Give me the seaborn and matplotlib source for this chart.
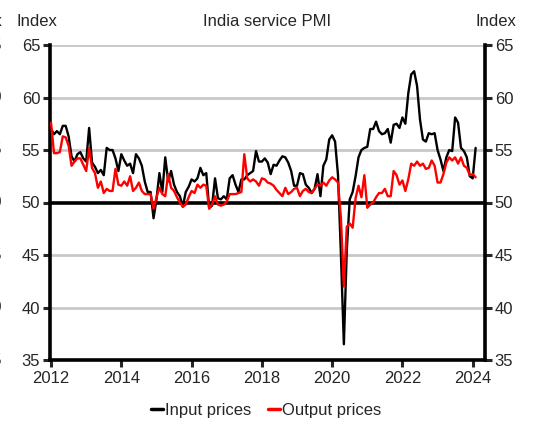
"""India service PMI: input vs output prices (monthly index, 2012-2024)."""

import numpy as np
import pandas as pd
import matplotlib

matplotlib.use("Agg")
import matplotlib.pyplot as plt
import matplotlib.transforms as mtransforms
import seaborn as sns


START_YEAR = 2012  # first point is Jan 2012, one value per month

input_prices = [
    57.0, 56.5, 56.8, 56.5, 57.3, 57.3, 56.3, 54.4, 53.9, 54.6, 54.8, 54.2,
    53.9, 57.1, 53.8, 53.4, 52.8, 53.1, 52.6, 55.2, 55.0, 55.0, 54.2, 53.0,
    54.6, 54.0, 53.5, 53.7, 52.8, 54.6, 54.2, 53.5, 52.0, 51.0, 51.0, 48.5,
    50.3, 52.8, 51.0, 54.3, 52.0, 53.0, 51.7, 51.0, 50.6, 49.6, 51.0, 51.5,
    52.2, 52.0, 52.3, 53.3, 52.6, 52.8, 49.5, 49.7, 52.3, 50.4, 50.3, 50.6,
    50.3, 52.3, 52.6, 51.7, 51.0, 52.2, 52.2, 52.6, 52.8, 53.0, 54.9, 53.9,
    53.9, 54.2, 53.8, 52.7, 53.6, 53.5, 54.0, 54.4, 54.3, 53.8, 53.0, 51.6,
    51.6, 52.8, 52.7, 51.7, 51.4, 50.9, 51.3, 52.7, 50.6, 53.5, 54.1, 56.0,
    56.4, 55.8, 52.6, 45.0, 36.5, 45.5, 50.3, 51.0, 52.5, 54.3, 55.0, 55.2,
    55.3, 57.0, 57.0, 57.7, 56.8, 56.5, 56.6, 57.0, 55.7, 57.4, 57.5, 57.1,
    58.1, 57.5, 60.4, 62.2, 62.5, 61.1, 57.9, 56.0, 55.8, 56.6, 56.5, 56.6,
    55.0, 54.1, 53.0, 54.3, 55.0, 54.9, 58.1, 57.6, 55.2, 54.9, 54.3, 52.5,
    52.3, 55.2,
]

output_prices = [
    57.6, 54.7, 54.7, 54.8, 56.3, 56.2, 55.4, 53.5, 53.9, 54.2, 54.2, 53.6,
    53.0, 55.2, 53.3, 52.8, 51.4, 52.0, 50.9, 51.3, 51.1, 51.1, 53.2, 51.7,
    51.6, 52.0, 51.6, 52.5, 51.1, 51.4, 51.9, 51.1, 50.8, 50.8, 50.8, 49.4,
    50.5, 51.4, 50.8, 50.6, 52.7, 51.4, 51.1, 50.5, 50.0, 49.6, 49.8, 50.5,
    51.1, 50.9, 51.7, 51.4, 51.7, 51.6, 49.4, 49.8, 50.6, 49.8, 49.7, 49.8,
    50.1, 50.8, 50.8, 50.8, 50.9, 51.0, 54.6, 52.3, 52.0, 52.2, 52.0, 51.6,
    52.3, 52.2, 51.9, 51.8, 51.6, 51.2, 50.9, 50.6, 51.4, 50.8, 51.0, 51.3,
    51.4, 50.6, 51.1, 51.3, 51.0, 50.9, 51.3, 51.7, 51.6, 51.9, 51.6, 52.1,
    52.4, 52.2, 51.9, 48.5, 42.0, 47.7, 48.0, 47.6, 50.4, 51.6, 50.5, 52.6,
    49.5, 49.8, 50.0, 50.5, 50.9, 50.9, 51.3, 50.6, 50.6, 53.0, 52.6, 51.7,
    52.1, 51.1, 52.2, 53.7, 53.5, 53.9, 53.5, 53.7, 53.2, 53.3, 54.0, 53.5,
    51.9, 51.9, 52.7, 53.8, 54.3, 54.0, 54.3, 53.7, 54.3, 53.5, 53.3, 52.6,
    52.7, 52.4,
]

series_names = ["Input prices", "Output prices"]
series_colors = ["black", "red"]
y_ticks = [35, 40, 45, 50, 55, 60, 65]
x_ticks = [2012, 2014, 2016, 2018, 2020, 2022, 2024]

W, H = 533, 421


def main():
    months = np.arange(len(input_prices))
    dates = START_YEAR + months / 12
    df = pd.DataFrame({
        "date": np.concatenate([dates, dates]),
        "value": input_prices + output_prices,
        "series": [series_names[0]] * len(input_prices) + [series_names[1]] * len(output_prices),
    })

    sns.set_style("white")
    plt.rcParams["font.family"] = ["Liberation Sans", "DejaVu Sans"]
    plt.rcParams["font.size"] = 12

    fig = plt.figure(figsize=(W / 100, H / 100), dpi=100)
    ax = fig.add_axes([50 / W, 1 - 360 / H, 435 / W, 315 / H])

    # grid lines, 50 line in black
    for y in y_ticks:
        if y == 50:
            continue
        ax.axhline(y, color="#c8c8c8", lw=2.0, zorder=0)
    ax.axhline(50, color="black", lw=2.6, zorder=1)

    sns.lineplot(
        data=df, x="date", y="value", hue="series",
        palette=dict(zip(series_names, series_colors)),
        hue_order=series_names, lw=1.7, ax=ax, zorder=3,
    )

    ax.set_xlim(2011.97, 2024.35)
    ax.set_ylim(35, 65)
    ax.set_xticks(x_ticks)
    ax.set_xticklabels([str(t) for t in x_ticks])
    ax.set_yticks(y_ticks)
    ax.set_xlabel("")
    ax.set_ylabel("")

    for side in ["left", "right", "bottom"]:
        ax.spines[side].set_visible(True)
        ax.spines[side].set_color("black")
        ax.spines[side].set_linewidth(2.6)
    ax.spines["top"].set_visible(False)

    ax.tick_params(axis="y", left=True, right=True, labelleft=True, labelright=True,
                   direction="out", length=5, width=2.2, pad=2, labelsize=12)
    ax.tick_params(axis="x", bottom=True, direction="out", length=5, width=2.2,
                   pad=3, labelsize=12)

    # legend below the plot (partly cut by the bottom edge, as in the source)
    handles, labels = ax.get_legend_handles_labels()
    ax.get_legend().remove()
    for h in handles:
        h.set_linewidth(2.5)
    fig.legend(handles, labels, loc="upper center", bbox_to_anchor=(0.5, 1 - 403 / H),
               ncol=2, frameon=False, handlelength=0.7, handletextpad=0.15,
               columnspacing=1.0, fontsize=12, borderpad=0, borderaxespad=0)

    fig.text(267 / W, 1 - 21 / H, "India service PMI", ha="center", va="center", fontsize=12)
    fig.text(16 / W, 1 - 21 / H, "Index", ha="left", va="center", fontsize=12)
    fig.text(516 / W, 1 - 21 / H, "Index", ha="right", va="center", fontsize=12)

    # fragments of the neighbouring panel cut off at the left edge
    trans = mtransforms.blended_transform_factory(fig.transFigure, ax.transData)
    fig.text(2 / W, 1 - 21 / H, "Index", ha="right", va="center", fontsize=12)
    for y in y_ticks:
        ax.text(2 / W, y, str(y), ha="right", va="center", fontsize=12,
                transform=trans, clip_on=False)

    fig.savefig("out.png", dpi=100)
    plt.close(fig)


if __name__ == "__main__":
    main()
